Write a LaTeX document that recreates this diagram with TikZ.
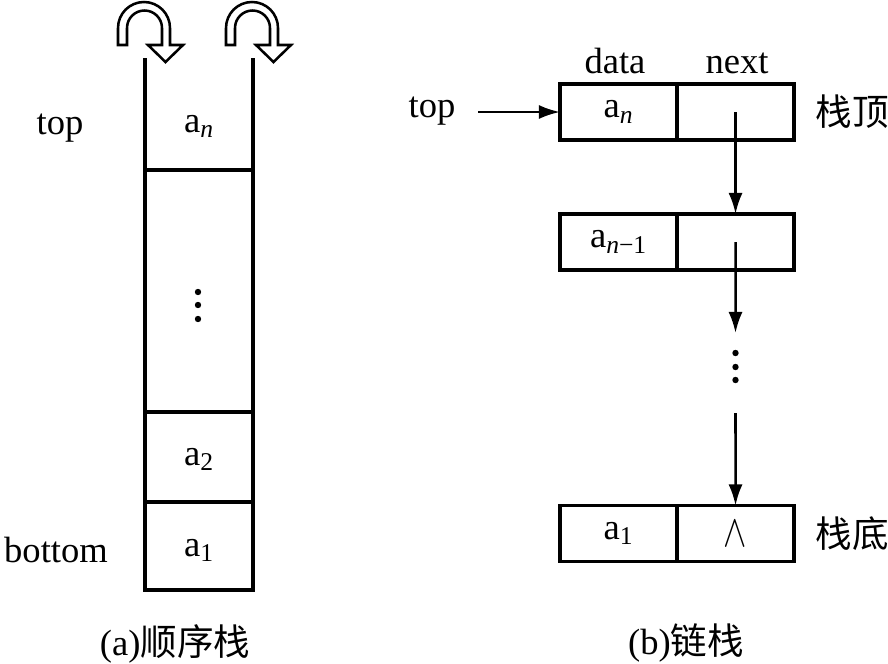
\documentclass[tikz,border=0pt]{standalone}
\usepackage{fontspec}
\usepackage{graphicx}
\setmainfont{Liberation Serif}
\newfontfamily\cjk{Noto Sans CJK SC}
\usetikzlibrary{positioning,arrows.meta}

\begin{document}
\begin{tikzpicture}[
      x=0.025cm, y=-0.025cm,
      font=\fontsize{26}{30}\selectfont,
      wall/.style={line width=2.4pt},
      cell/.style={draw, line width=2.4pt, minimum width=2.925cm, minimum height=1.4cm, inner sep=0pt, outer sep=0pt},
      arr/.style={-{Latex[length=15pt,width=10pt]}, line width=1.8pt},
      lbl/.style={anchor=base, inner sep=0pt},
      uturn/.pic={
        \draw[line width=1.8pt] (0,0) -- (0,-17) arc[start angle=180, end angle=360, radius=26]
          -- (52,0) -- (65,0) -- (47.5,17) -- (30,0) -- (44,0) -- (44,-17)
          arc[start angle=360, end angle=180, radius=17.5] -- (9,0) -- cycle;
      },
    ]
    \useasboundingbox (0,0) rectangle (888,664);
    % (a) sequential stack
    \draw[wall] (145,58) -- (145,590) -- (253,590) -- (253,58);
    \draw[wall] (145,170) -- (253,170);
    \draw[wall] (145,412) -- (253,412);
    \draw[wall] (145,502) -- (253,502);
    \pic at (118,45) {uturn};
    \pic at (226,45) {uturn};
    \node[lbl] (stop) at (60,134) {top};
    \node[lbl] (sbottom) at (56,562) {bottom};
    \node[lbl] (san) at (199,132) {a\textsubscript{\textit{n}}};
    \node[lbl] (sa2) at (199,465) {a\textsubscript{2}};
    \node[lbl] (sa1) at (199,556) {a\textsubscript{1}};
    \foreach \y in {292,305,319} \fill (198,\y) circle[radius=3.2];
    \node[lbl] (capa) at (175,655) {(a){\cjk 顺序栈}};
    % (b) linked stack
    \node[lbl] (hdata) at (615,73) {data};
    \node[lbl] (hnext) at (737,73) {next};
    \node[cell] (d1) at (618.5,112) {a\textsubscript{\textit{n}}};
    \node[cell, right=0pt of d1] (n1) {};
    \node[cell] (d2) at (618.5,242) {a\textsubscript{\textit{n}−1}};
    \node[cell, right=0pt of d2] (n2) {};
    \node[cell] (d3) at (618.5,533.5) {a\textsubscript{1}};
    \node[cell, right=0pt of d3] (n3) {\scalebox{1}[1.3]{$\wedge$}};
    \node[lbl] (ltop) at (432,117) {top};
    \coordinate (tstart) at (478,112);
    \draw[arr] (tstart) -- (d1.west);
    \node (ktop) at (852,112) {\cjk 栈顶};
    \node (kbot) at (852,534) {\cjk 栈底};
    \draw[arr] (n1.center) -- (n2.north);
    \coordinate (gapt) at (735.5,333);
    \coordinate (gapb) at (735.5,413);
    \draw[arr] (n2.center) -- (gapt);
    \foreach \y in {353,367,380} \fill (735.5,\y) circle[radius=3.2];
    \draw[arr] (gapb) -- (n3.north);
    \node[lbl] (capb) at (686,654) {(b){\cjk 链栈}};
  \end{tikzpicture}
\end{document}
